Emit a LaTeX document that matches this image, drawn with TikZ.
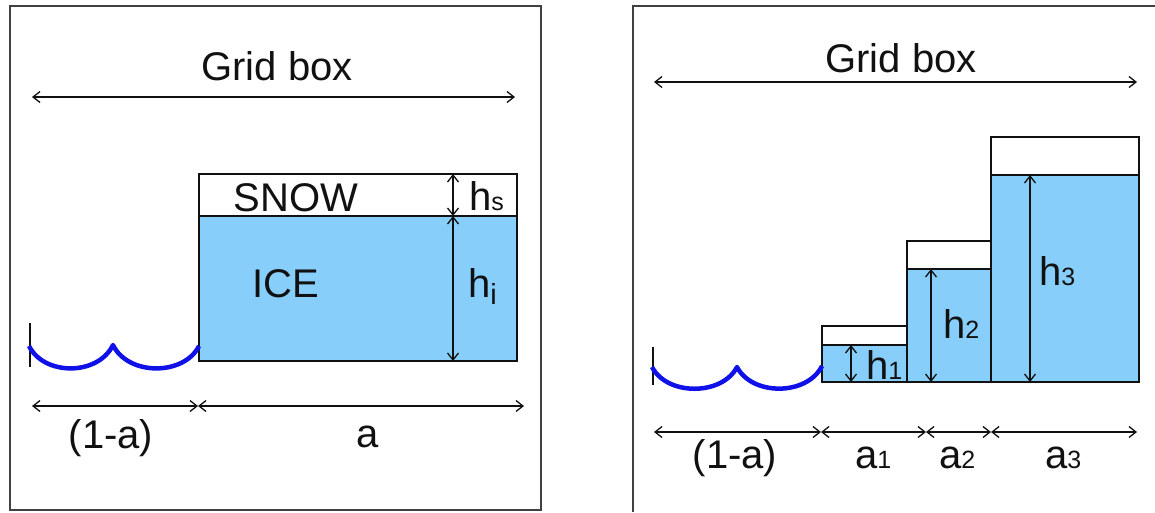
\documentclass[tikz,border=0pt]{standalone}
\usepackage{fontspec}
\setmainfont{Liberation Sans}
\usetikzlibrary{arrows.meta}
\definecolor{ice}{HTML}{87CEFA}
\definecolor{sea}{HTML}{1010E8}
\definecolor{ink}{HTML}{111111}
\newcommand{\subsz}[1]{{\fontsize{25}{25}\selectfont #1}}
\tikzset{
  every node/.style={text=ink,inner sep=0pt},
  big/.style={font=\fontsize{40}{44}\selectfont},
  frame/.style={draw=ink!80,line width=1.5pt},
  icebox/.style={draw=ink,line width=1.4pt,fill=ice},
  snowbox/.style={draw=ink,line width=1.4pt,fill=white},
  dim/.style={{Straight Barb[length=7pt,width=11pt]}-{Straight Barb[length=7pt,width=11pt]},line width=1.3pt,draw=ink},
  wave/.style={draw=sea,line width=4.5pt,line join=round},
  tick/.style={draw=ink,line width=1.5pt},
}

\begin{document}
\begin{tikzpicture}[x=1pt,y=-1pt]
\useasboundingbox (0,0) rectangle (1155,512);

\draw[frame] (10,6) rectangle (541,510);
\draw[frame] (633,512) -- (633,6) -- (1155,6);

\node[big,anchor=base] (gridL) at (277,80) {Grid box};
\coordinate (gl1) at (32,97);
\coordinate (gl2) at (515,97);
\draw[dim] (gl1) -- (gl2);

\draw[snowbox] (199,174) rectangle (517,216);
\draw[icebox] (199,216) rectangle (517,361);
\node[big,anchor=base] (snowT) at (296,211) {SNOW};
\node[big,anchor=base] (iceT) at (286,297) {ICE};

\coordinate (hs1) at (453,174);
\coordinate (hs2) at (453,216);
\coordinate (hi2) at (453,361);
\draw[dim] (hs1) -- (hs2);
\draw[dim] (hs2) -- (hi2);
\node[big,anchor=base west] (hsT) at (469,210) {h\subsz{s}};
\node[big,anchor=base west] (hiT) at (468,297) {h\raisebox{-7pt}{\fontsize{29}{29}\selectfont i}};

\coordinate (wl0) at (30,323);
\coordinate (wl1) at (30,367);
\draw[tick] (wl0) -- (wl1);
\draw[wave] (29,346) .. controls (44,376) and (98,376) .. (113,345)
  .. controls (128,376) and (184,376) .. (199,346);

\coordinate (bl1) at (32,406);
\coordinate (bl2) at (198,406);
\coordinate (bl3) at (524,406);
\draw[dim] (bl1) -- (bl2);
\draw[dim] (bl2) -- (bl3);
\node[big,anchor=base] (omaL) at (111,448) {(1-a)};
\node[big,anchor=base] (aL) at (368,447) {a};

\node[big,anchor=base] (gridR) at (901,72) {Grid box};
\coordinate (gr1) at (654,82);
\coordinate (gr2) at (1137,82);
\draw[dim] (gr1) -- (gr2);

\draw[snowbox] (822,326) rectangle (907,345);
\draw[icebox] (822,345) rectangle (907,382);
\draw[snowbox] (907,241) rectangle (991,269);
\draw[icebox] (907,269) rectangle (991,382);
\draw[snowbox] (991,137) rectangle (1139,175);
\draw[icebox] (991,175) rectangle (1139,382);

\coordinate (h1a) at (851,345);
\coordinate (h1b) at (851,382);
\coordinate (h2a) at (931,269);
\coordinate (h2b) at (931,382);
\coordinate (h3a) at (1030,175);
\coordinate (h3b) at (1030,382);
\draw[dim] (h1a) -- (h1b);
\draw[dim] (h2a) -- (h2b);
\draw[dim] (h3a) -- (h3b);
\node[big,anchor=base west] (h1T) at (866,379) {h\subsz{1}};
\node[big,anchor=base west] (h2T) at (943,338) {h\subsz{2}};
\node[big,anchor=base west] (h3T) at (1039,285) {h\subsz{3}};

\coordinate (wr0) at (653,347);
\coordinate (wr1) at (653,385);
\draw[tick] (wr0) -- (wr1);
\draw[wave] (652,367) .. controls (667,396) and (722,396) .. (737,367)
  .. controls (752,396) and (807,396) .. (822,366);

\coordinate (br1) at (654,432);
\coordinate (br2) at (821,432);
\coordinate (br3) at (926,432);
\coordinate (br4) at (991,432);
\coordinate (br5) at (1137,432);
\draw[dim] (br1) -- (br2);
\draw[dim] (br2) -- (br3);
\draw[dim] (br3) -- (br4);
\draw[dim] (br4) -- (br5);
\node[big,anchor=base] (omaR) at (735,468) {(1-a)};
\node[big,anchor=base west] (a1T) at (855,468) {a\subsz{1}};
\node[big,anchor=base west] (a2T) at (939,468) {a\subsz{2}};
\node[big,anchor=base west] (a3T) at (1045,468) {a\subsz{3}};

\end{tikzpicture}
\end{document}
